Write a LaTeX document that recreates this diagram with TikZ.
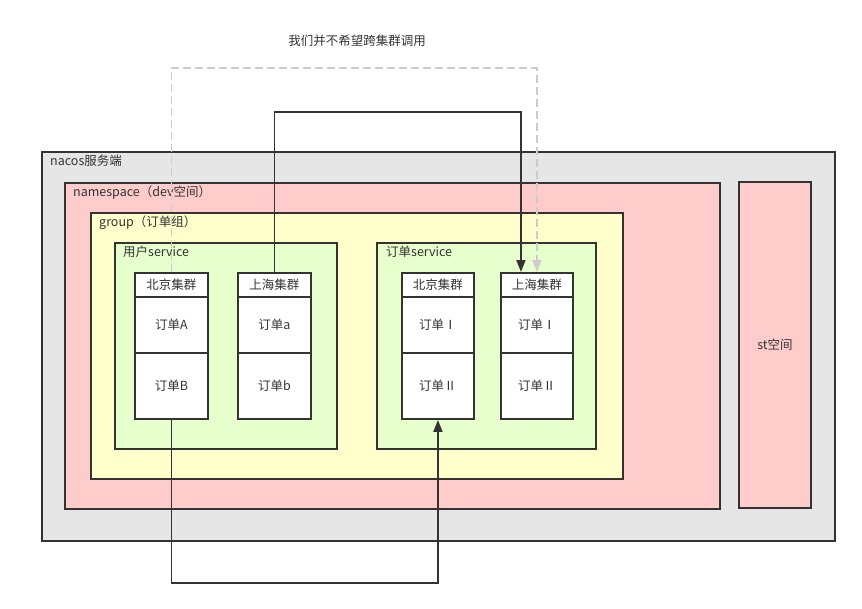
\documentclass[tikz,border=0pt]{standalone}
\usepackage{fontspec}
\setmainfont{Noto Sans CJK SC}
\usetikzlibrary{arrows.meta}
\definecolor{ln}{HTML}{333333}
\definecolor{tx}{HTML}{333333}
\definecolor{cgray}{HTML}{E6E6E6}
\definecolor{cpink}{HTML}{FFCCCC}
\definecolor{cyel}{HTML}{FFFFCC}
\definecolor{cgreen}{HTML}{E6FFCC}
\definecolor{dsh}{HTML}{CCCCCC}
\tikzset{
  area/.style={draw=ln, line width=1.9pt, anchor=north west, inner sep=0pt},
  lbl/.style={anchor=north west, inner sep=0pt, text=tx, font=\fontsize{12.5}{14}\selectfont},
  cell/.style={draw=ln, fill=white, line width=1.9pt, anchor=north west, inner sep=0pt, text=tx, font=\fontsize{12.5}{14}\selectfont, minimum width=73pt},
  conn/.style={draw=ln, line width=1.9pt, -{Triangle[length=12pt,width=9pt]}},
  dconn/.style={draw=dsh, line width=1.9pt, dash pattern=on 8pt off 4pt, -{Triangle[length=12pt,width=9pt]}}
}
\begin{document}
\begin{tikzpicture}[x=1pt,y=-1pt]
\useasboundingbox (0,0) rectangle (862,608);
% containers
\node[area, fill=cgray, minimum width=793pt, minimum height=389pt] (nacos) at (41,151) {};
\node[area, fill=cpink, minimum width=655pt, minimum height=326pt] (ns) at (64,182) {};
\node[area, fill=cpink, minimum width=72pt, minimum height=326pt, anchor=center, text=tx, font=\fontsize{12.5}{14}\selectfont] (st) at (775,345) {st空间};
\node[area, fill=cyel, minimum width=532pt, minimum height=266pt] (grp) at (90,212) {};
\node[area, fill=cgreen, minimum width=222pt, minimum height=206pt] (usvc) at (114,242) {};
\node[area, fill=cgreen, minimum width=219pt, minimum height=206pt] (osvc) at (376,242) {};
% labels
\node[lbl] (lnacos) at (50,155) {nacos服务端};
\node[lbl] (lns) at (73,186) {namespace（dev空间）};
\node[lbl] (lgrp) at (99,216) {group（订单组）};
\node[lbl] (lusvc) at (123,246) {用户service};
\node[lbl] (losvc) at (386,246) {订单service};
% clusters left
\node[cell, minimum height=24pt] (bjA) at (134,272) {北京集群};
\node[cell, minimum height=56pt] (ordA) at (134,296) {订单A};
\node[cell, minimum height=66pt] (ordB) at (134,352) {订单B};
\node[cell, minimum height=24pt] (shA) at (237,272) {上海集群};
\node[cell, minimum height=56pt] (orda) at (237,296) {订单a};
\node[cell, minimum height=66pt] (ordb) at (237,352) {订单b};
% clusters right
\node[cell, minimum width=72pt, minimum height=24pt] (bjO) at (401,272) {北京集群};
\node[cell, minimum width=72pt, minimum height=56pt] (bjI) at (401,296) {订单Ⅰ};
\node[cell, minimum width=72pt, minimum height=66pt] (bjII) at (401,352) {订单Ⅱ};
\node[cell, minimum width=72pt, minimum height=24pt] (shO) at (500,272) {上海集群};
\node[cell, minimum width=72pt, minimum height=56pt] (shI) at (500,296) {订单Ⅰ};
\node[cell, minimum width=72pt, minimum height=66pt] (shII) at (500,352) {订单Ⅱ};
% caption
\node[text=tx, font=\fontsize{12.5}{14}\selectfont, inner sep=0pt] (cap) at (357,41) {我们并不希望跨集群调用};
% connectors
\coordinate (dtop) at (350,68);
\coordinate (stop) at (400,112);
\coordinate (sbot) at (300,583);
\draw[dconn] (bjA.north) |- (dtop) -| (shO.north);
\draw[conn] (shA.north) |- (stop) -| ([xshift=-16pt]shO.north);
\draw[conn] (ordB.south) |- (sbot) -| (bjII.south);
\end{tikzpicture}
\end{document}
